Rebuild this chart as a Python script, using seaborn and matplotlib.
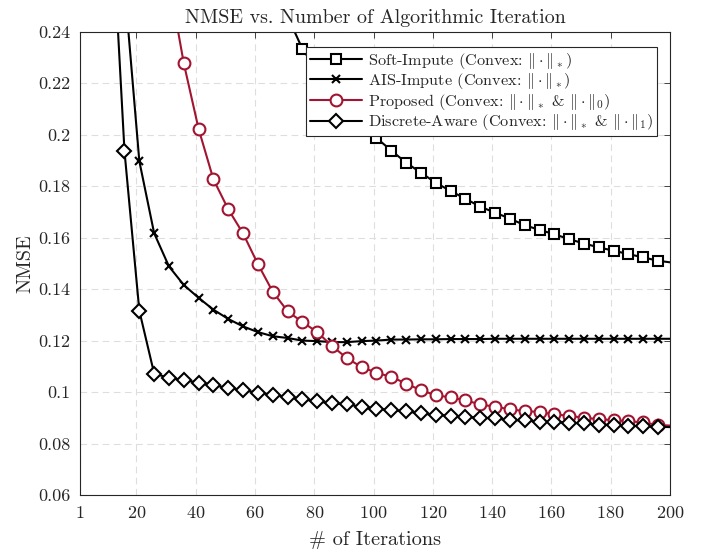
import matplotlib
matplotlib.use('Agg')
import matplotlib.pyplot as plt
import seaborn as sns

# iteration grid (markers every 5 iterations, line runs on to 200)
iters = list(range(1, 197, 5)) + [200]

soft_impute = [0.95, 0.75, 0.62, 0.53, 0.46, 0.41, 0.37, 0.34, 0.315, 0.300,
               0.285, 0.272, 0.262, 0.253, 0.246, 0.2333, 0.2248, 0.2173, 0.2105, 0.2043,
               0.1987, 0.1938, 0.1891, 0.1852, 0.1813, 0.1781, 0.1751, 0.1720, 0.1697, 0.1674,
               0.1648, 0.1630, 0.1613, 0.1594, 0.1577, 0.1562, 0.1549, 0.1536, 0.1523, 0.1510,
               0.1504]

ais_impute = [1.0, 0.70, 0.40, 0.258, 0.1897, 0.1617, 0.1488, 0.1416, 0.1366, 0.1320,
              0.1284, 0.1255, 0.1233, 0.1217, 0.1210, 0.1200, 0.1198, 0.1194, 0.1194, 0.1198,
              0.1200, 0.1204, 0.1204, 0.1205, 0.1205, 0.1206, 0.1206, 0.1206, 0.1207, 0.1207,
              0.1207, 0.1207, 0.1207, 0.1207, 0.1207, 0.1207, 0.1207, 0.1207, 0.1207, 0.1207,
              0.1207]

proposed = [0.80, 0.65, 0.52, 0.42, 0.35, 0.30, 0.26, 0.2277, 0.2022, 0.1826,
            0.1710, 0.1616, 0.1497, 0.1390, 0.1314, 0.1272, 0.1233, 0.1179, 0.1132, 0.1097,
            0.1075, 0.1059, 0.1033, 0.1007, 0.0988, 0.0979, 0.0968, 0.0952, 0.0943, 0.0933,
            0.0926, 0.0923, 0.0913, 0.0908, 0.0900, 0.0895, 0.0891, 0.0887, 0.0882, 0.0872,
            0.0870]

discrete_aware = [0.90, 0.60, 0.30, 0.1935, 0.1316, 0.1072, 0.1055, 0.1046, 0.1037, 0.1026,
                  0.1017, 0.1007, 0.0998, 0.0990, 0.0981, 0.0972, 0.0964, 0.0956, 0.0952, 0.0943,
                  0.0936, 0.0930, 0.0925, 0.0917, 0.0911, 0.0909, 0.0904, 0.0900, 0.0898, 0.0891,
                  0.0890, 0.0885, 0.0884, 0.0881, 0.0878, 0.0874, 0.0873, 0.0869, 0.0868, 0.0865,
                  0.0864]

labels = [r'Soft-Impute (Convex: $\|\cdot\|_*$)',
          r'AIS-Impute (Convex: $\|\cdot\|_*$)',
          r'Proposed (Convex: $\|\cdot\|_*$ & $\|\cdot\|_0$)',
          r'Discrete-Aware (Convex: $\|\cdot\|_*$ & $\|\cdot\|_1$)']

xticks = [1, 20, 40, 60, 80, 100, 120, 140, 160, 180, 200]
yticks = [0.06, 0.08, 0.10, 0.12, 0.14, 0.16, 0.18, 0.20, 0.22, 0.24]
ytick_labels = ['0.06', '0.08', '0.1', '0.12', '0.14', '0.16', '0.18', '0.2', '0.22', '0.24']

sns.set_theme(style='white')
plt.rcParams['font.family'] = ['cmr10', 'DejaVu Serif']
plt.rcParams['mathtext.fontset'] = 'cm'
plt.rcParams['axes.formatter.use_mathtext'] = True

fig, ax = plt.subplots(figsize=(7.12, 5.55), dpi=100)
fig.subplots_adjust(left=0.1124, right=0.941, top=0.943, bottom=0.108)

red = '#A2142F'
styles = [
    dict(marker='s', color='black', markersize=6.5),
    dict(marker='x', color='black', markersize=6),
    dict(marker='o', color=red, markersize=8.5),
    dict(marker='D', color='black', markersize=6.8),
]
series = [soft_impute, ais_impute, proposed, discrete_aware]

for vals, lab, st in zip(series, labels, styles):
    face = 'white' if st['marker'] != 'x' else st['color']
    sns.lineplot(x=iters, y=vals, ax=ax, errorbar=None, label=lab,
                 color=st['color'], marker=st['marker'], markersize=st['markersize'],
                 markerfacecolor=face, markeredgecolor=st['color'],
                 markeredgewidth=1.5, linewidth=1.5,
                 markevery=list(range(len(iters) - 1)))

ax.set_xlim(1, 200)
ax.set_ylim(0.06, 0.24)
ax.set_xticks(xticks)
ax.set_yticks(yticks)
ax.set_yticklabels(ytick_labels)

ax.set_axisbelow(True)
ax.grid(True, linestyle=(0, (6, 4)), color='#dedede', linewidth=0.8)
ax.tick_params(direction='in', top=True, right=True, length=4, width=0.6,
               labelsize=13, colors='#262626', pad=7)
for sp in ax.spines.values():
    sp.set_color('#262626')
    sp.set_linewidth(0.8)

ax.set_title('NMSE vs. Number of Algorithmic Iteration', fontsize=14.4, pad=6)
ax.set_xlabel('# of Iterations', fontsize=14.6, labelpad=7)
ax.set_ylabel('NMSE', fontsize=14.6, labelpad=3)

leg = ax.legend(loc='upper right', bbox_to_anchor=(0.978, 0.967), fontsize=11.7,
                frameon=True, fancybox=False, framealpha=1, edgecolor='#262626',
                handlelength=3.2, handletextpad=0.4, borderpad=0.22, labelspacing=0.04,
                borderaxespad=0)
leg.get_frame().set_linewidth(0.8)

plt.savefig('out.png', dpi=100)
